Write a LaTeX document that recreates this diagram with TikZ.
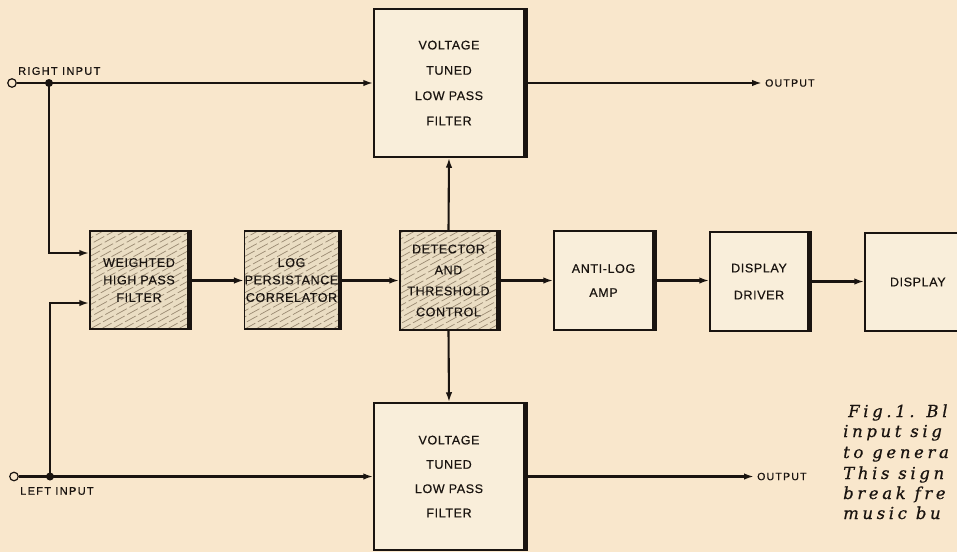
\documentclass[tikz,border=0pt]{standalone}
\usepackage{fontspec}
\setmainfont{Liberation Sans}
\newfontfamily\boxfont[LetterSpace=5,FakeBold=0.5]{Liberation Sans}
\newfontfamily\inpfont[LetterSpace=12,FakeBold=0.5]{Liberation Sans}
\newfontfamily\capfont[LetterSpace=22,FakeBold=0.6]{DejaVu Serif}
\usetikzlibrary{arrows.meta,calc}
\definecolor{bg}{HTML}{F9E7CC}
\definecolor{boxfill}{HTML}{F9EEDA}
\definecolor{hatchfill}{HTML}{EADDC3}
\definecolor{hatchline}{HTML}{9A8A72}
\definecolor{ink}{HTML}{1A1410}
\newcommand\bxf[1]{\boxfont\fontsize{12.5}{#1}\selectfont}
\begin{document}
\begin{tikzpicture}[x=1pt,y=-1pt,
  conn/.style={line width=2.1pt, draw=ink},
  arr/.style={conn, -{Latex[length=10pt,width=6.5pt]}},
  plainbox/.style={draw=ink, line width=1.5pt, fill=boxfill, inner sep=0pt, align=center, text=ink},
  hatchbox/.style={plainbox, fill=hatchfill, path picture={
    \foreach \k in {-20,...,12}{
      \draw[hatchline, line width=0.7pt, dash pattern=on 12pt off 3pt]
        ($(path picture bounding box.south west)+(\k*11,0)$) -- ++(220,-121);
    }}},
  shadowedge/.style={line width=3.2pt, draw=ink},
  inport/.style={circle, draw=ink, line width=1.2pt, fill=bg, minimum size=8.5pt, inner sep=0pt},
  lbl/.style={font=\inpfont\fontsize{11}{13}\selectfont, text=ink, inner sep=0pt},
  outlbl/.style={font=\inpfont\fontsize{10.5}{12}\selectfont, text=ink, inner sep=0pt},
  caption/.style={font=\capfont\itshape\fontsize{16.5}{20}\selectfont, text=ink, inner sep=0pt, anchor=base west},
]
\useasboundingbox (0,0) rectangle (957,552);
\fill[bg] (0,0) rectangle (957,552);

% boxes
\node[plainbox, minimum width=150pt, minimum height=148pt, font=\bxf{25.3}] (tvt) at (449,83) {VOLTAGE\\TUNED\\LOW PASS\\FILTER};
\node[plainbox, minimum width=150pt, minimum height=147pt, font=\bxf{24.3}] (bvt) at (449,476.5) {VOLTAGE\\TUNED\\LOW PASS\\FILTER};
\node[hatchbox, minimum width=98pt, minimum height=98pt, font=\bxf{17.5}] (whpf) at (139,280) {WEIGHTED\\HIGH PASS\\FILTER};
\node[hatchbox, minimum width=93pt, minimum height=98pt, font=\bxf{17.5}] (log) at (291.5,280) {LOG\\PERSISTANCE\\CORRELATOR};
\node[hatchbox, minimum width=97pt, minimum height=99pt, font=\bxf{21}] (det) at (448.5,280.5) {DETECTOR\\AND\\THRESHOLD\\CONTROL};
\node[plainbox, minimum width=99pt, minimum height=99pt, font=\bxf{24}] (anti) at (603.5,280.5) {ANTI-LOG\\AMP};
\node[plainbox, minimum width=98pt, minimum height=99pt, font=\bxf{27}] (drv) at (759,281.5) {DISPLAY\\DRIVER};
\node[plainbox, minimum width=120pt, minimum height=98pt, font=\bxf{20}, text width=120pt, align=left] (disp) at (925,282) {\hspace*{25pt}DISPLAY};

% shadow (heavy right edges)
\foreach \n in {tvt,bvt,whpf,log,det,anti,drv}{
  \draw[shadowedge] ([xshift=1.2pt]\n.north east) -- ([xshift=1.2pt]\n.south east);
}

% inputs
\node[inport] (rin) at (12,83) {};
\node[inport] (lin) at (14,476.5) {};
\coordinate (rj) at (49,83);
\coordinate (lj) at (50,476.5);
\node[lbl, anchor=west] (rlbl) at (18,71) {RIGHT INPUT};
\node[lbl, anchor=west] (llbl) at (20,491) {LEFT INPUT};

\draw[arr] (rin) -- (rin -| tvt.west);
\draw[arr] (lin) -- (lin -| bvt.west);
\draw[arr] (rj) |- ([yshift=27pt]whpf.west);
\draw[arr] (lj) |- ([yshift=-23pt]whpf.west);
\fill[ink] (rj) circle (4pt);
\fill[ink] (lj) circle (4pt);

% outputs
\coordinate (o1) at (762,83);
\coordinate (o2) at (754,476.5);
\draw[arr] (tvt.east |- rin) -- (o1);
\draw[arr] (bvt.east) -- (o2);
\node[outlbl, anchor=west] (o1lbl) at ([xshift=3pt]o1) {OUTPUT};
\node[outlbl, anchor=west] (o2lbl) at ([xshift=3pt]o2) {OUTPUT};

% chain
\draw[arr] (whpf.east |- det) -- (log.west |- det);
\draw[arr] (log.east |- det) -- (det.west);
\draw[arr] (det.east) -- (anti.west);
\draw[arr] (anti.east) -- (drv.west |- anti);
\draw[arr] (drv.east) -- (disp.west |- drv);
\draw[arr] (det.north) -- (tvt.south);
\draw[arr] (det.south) -- (bvt.north);

% caption (cropped at the right edge, as in the reference)
\node[caption] (c1) at (848,417) {Fig.1. Bl};
\node[caption] (c2) at (843,437) {input sig};
\node[caption] (c3) at (843,458) {to genera};
\node[caption] (c4) at (843,479) {This sign};
\node[caption] (c5) at (843,499) {break fre};
\node[caption] (c6) at (843,519) {music bu};
\end{tikzpicture}
\end{document}
